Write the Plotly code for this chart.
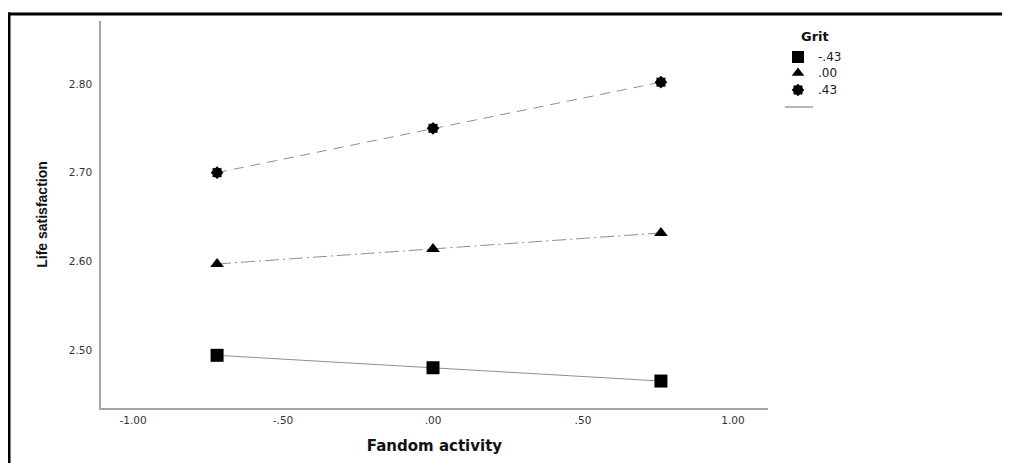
import plotly.graph_objects as go

# ---- data ----
fandom_x = [-0.72, 0.00, 0.76]
grit_labels = ["-.43", ".00", ".43"]
ls_low = [2.494, 2.480, 2.465]     # Grit -.43
ls_mid = [2.597, 2.614, 2.632]     # Grit .00
ls_high = [2.700, 2.750, 2.802]    # Grit .43
x_ticks = [-1.0, -0.5, 0.0, 0.5, 1.0]
x_tick_text = ["-1.00", "-.50", ".00", ".50", "1.00"]
y_ticks = [2.5, 2.6, 2.7, 2.8]
y_tick_text = ["2.50", "2.60", "2.70", "2.80"]

# ---- layout geometry (page pixels; the page body has an 8px margin) ----
OFF = 8
W, H = 1010 - OFF, 463 - OFF
PX0, PX1, PY0, PY1 = 101, 768, 21, 408       # plot area in page pixels
AREA_W = 1010 - PX0
AREA_H = PY1 - PY0


def px2x(px):
    return (px - PX0) / AREA_W


def px2y(py):
    return (PY1 - py) / AREA_H


TICKFONT = "DejaVu Sans, Verdana, sans-serif"
TITLEFONT_X = "DejaVu Sans, Verdana, sans-serif"
TITLEFONT_Y = "Liberation Sans, Arial, sans-serif"
LINE_COL = "#8f8f8f"

fig = go.Figure()

# data series
fig.add_trace(go.Scatter(
    x=fandom_x, y=ls_low, mode="lines+markers", showlegend=False,
    line=dict(color=LINE_COL, width=1, dash="solid"),
    marker=dict(symbol="square", size=13, color="black")))
fig.add_trace(go.Scatter(
    x=fandom_x, y=ls_mid, mode="lines+markers", showlegend=False,
    line=dict(color=LINE_COL, width=1, dash="14px,4px,2px,4px"),
    marker=dict(symbol="triangle-up", size=12, color="black")))
fig.add_trace(go.Scatter(
    x=fandom_x, y=ls_high, mode="lines", showlegend=False,
    line=dict(color=LINE_COL, width=1, dash="10px,7px")))
for ang in (0, 45):
    fig.add_trace(go.Scatter(
        x=fandom_x, y=ls_high, mode="markers", showlegend=False,
        marker=dict(symbol="square", size=9, angle=ang, color="black",
                    line=dict(width=0))))

# custom legend (drawn on its own hidden axes, in page pixel units)
LEG_MX = 798
LEG_ROWS = [57, 73, 90]
LEG_LINE_X = [785, 813]
LEG_LINE_Y = 107
leg_syms = [("square", 12, [0]), ("triangle-up", 11, [0]), ("square", 9, [0, 45])]
for row, (sym, sz, angs) in zip(LEG_ROWS, leg_syms):
    for ang in angs:
        fig.add_trace(go.Scatter(
            x=[LEG_MX], y=[row], mode="markers", showlegend=False,
            xaxis="x2", yaxis="y2", hoverinfo="skip",
            marker=dict(symbol=sym, size=sz, angle=ang, color="black")))
fig.add_trace(go.Scatter(
    x=LEG_LINE_X, y=[LEG_LINE_Y, LEG_LINE_Y], mode="lines", showlegend=False,
    xaxis="x2", yaxis="y2", hoverinfo="skip",
    line=dict(color="#a0a0a0", width=1.5)))

annotations = [dict(x=815, y=37, xref="x2", yref="y2", text="<b>Grit</b>",
                    showarrow=False, xanchor="center", yanchor="middle",
                    font=dict(family=TITLEFONT_X, size=13, color="#111"))]
for row, lab in zip(LEG_ROWS, grit_labels):
    annotations.append(dict(x=816, y=row, xref="x2", yref="y2", text=lab,
                            showarrow=False, xanchor="left", yanchor="middle",
                            font=dict(family=TICKFONT, size=12, color="#222")))

axis_common = dict(showgrid=False, zeroline=False, showline=True,
                   linecolor="#a6a6a6", linewidth=1.5, ticks="",
                   tickfont=dict(family=TICKFONT, size=10.5, color="#333"))

fig.update_layout(
    width=W, height=H,
    margin=dict(l=PX0 - OFF, r=0, t=PY0 - OFF, b=463 - PY1, autoexpand=False),
    plot_bgcolor="white", paper_bgcolor="white",
    xaxis=dict(domain=[0, (PX1 - PX0) / AREA_W],
               range=[-1.107, 1.117], tickvals=x_ticks, ticktext=x_tick_text,
               ticklabelstandoff=2,
               title=dict(text="<b>Fandom activity</b>", standoff=15,
                          font=dict(family=TITLEFONT_X, size=15, color="#111")),
               **axis_common),
    yaxis=dict(range=[2.4346, 2.871], tickvals=y_ticks, ticktext=y_tick_text,
               ticklabelstandoff=5,
               title=dict(text="<b>Life satisfaction</b>", standoff=18,
                          font=dict(family=TITLEFONT_Y, size=14, color="#111")),
               **axis_common),
    xaxis2=dict(domain=[px2x(770), px2x(900)], range=[770, 900], anchor="y2",
                visible=False, fixedrange=True),
    yaxis2=dict(domain=[px2y(125), px2y(25)], range=[125, 25], anchor="x2",
                visible=False, fixedrange=True),
    annotations=annotations,
    showlegend=False,
    shapes=[
        dict(type="line", xref="paper", yref="paper",
             x0=px2x(7), x1=px2x(1015), y0=px2y(14), y1=px2y(14),
             line=dict(color="black", width=3)),
        dict(type="line", xref="paper", yref="paper",
             x0=px2x(9), x1=px2x(9), y0=px2y(12.5), y1=px2y(470),
             line=dict(color="black", width=3)),
    ],
)

fig.write_html("out.html", config=dict(displayModeBar=False),
               post_script="document.documentElement.style.overflow='hidden';")
